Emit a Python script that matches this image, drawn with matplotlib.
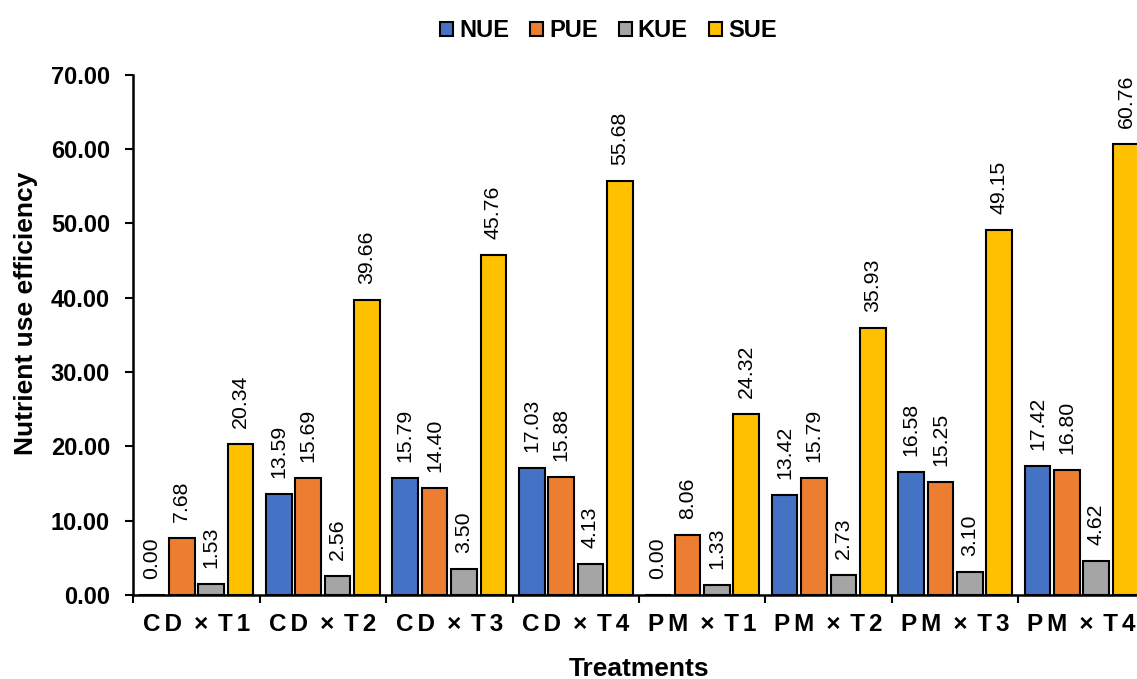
import matplotlib
matplotlib.use('Agg')
import matplotlib.pyplot as plt
import numpy as np

plt.rcParams['font.family'] = ['Liberation Sans', 'DejaVu Sans']

# data
groups = ['CD', 'CD', 'CD', 'CD', 'PM', 'PM', 'PM', 'PM']
levels = ['T1', 'T2', 'T3', 'T4', 'T1', 'T2', 'T3', 'T4']
series_names = ['NUE', 'PUE', 'KUE', 'SUE']
nue = [0.00, 13.59, 15.79, 17.03, 0.00, 13.42, 16.58, 17.42]
pue = [7.68, 15.69, 14.40, 15.88, 8.06, 15.79, 15.25, 16.80]
kue = [1.53, 2.56, 3.50, 4.13, 1.33, 2.73, 3.10, 4.62]
sue = [20.34, 39.66, 45.76, 55.68, 24.32, 35.93, 49.15, 60.76]
y_ticks = [0, 10, 20, 30, 40, 50, 60, 70]

colors = ['#4472C4', '#ED7D31', '#A5A5A5', '#FFC000']

# spaced-out labels like "C D  ×  T 1"
narrow = '\u2006'
treatments = [narrow.join(g) + '\u2002×\u2009\u2009' + narrow.join(t)
              for g, t in zip(groups, levels)]

fig = plt.figure(figsize=(11.37, 6.79), dpi=100)
ax = fig.add_axes([0.117, 0.1237, 0.890, 0.766])

x = np.arange(len(treatments))
step = 0.233
width = 0.205
all_series = [nue, pue, kue, sue]

for i, (vals, name, col) in enumerate(zip(all_series, series_names, colors)):
    off = (i - 1.5) * step
    bars = ax.bar(x + off, vals, width, color=col, edgecolor='black',
                  linewidth=1.5, label=name, clip_on=False)
    for b, v in zip(bars, vals):
        ax.annotate(f'{v:.2f}', (b.get_x() + b.get_width() / 2, v),
                    xytext=(0, 11.5), textcoords='offset points',
                    rotation=90, ha='center', va='bottom', fontsize=15.3)

ax.set_xlim(-0.5, len(treatments) - 0.5)
ax.set_ylim(0, 70)
ax.set_yticks(y_ticks)
ax.set_yticklabels([f'{t:.2f}' for t in y_ticks], fontsize=17, fontweight='bold')
ax.set_xticks(x)
ax.set_xticklabels(treatments, fontsize=17.5, fontweight='bold')
ax.set_xticks(np.arange(len(treatments) + 1) - 0.5, minor=True)
ax.tick_params(axis='x', which='major', length=0, pad=13)
ax.tick_params(axis='x', which='minor', length=6, width=1.5, direction='out')
ax.tick_params(axis='y', length=6, width=1.5, direction='out', pad=10.5)

for s in ['top', 'right']:
    ax.spines[s].set_visible(False)
for s in ['left', 'bottom']:
    ax.spines[s].set_linewidth(1.8)

ax.set_ylabel('Nutrient use efficiency', fontsize=19, fontweight='bold')
ax.yaxis.set_label_coords(-0.094, 0.542)
ax.set_xlabel('Treatments', fontsize=19, fontweight='bold', labelpad=15)

leg = fig.legend(loc='center', bbox_to_anchor=(0.535, 0.955), ncol=4, frameon=False,
                 prop={'size': 17, 'weight': 'bold'}, handlelength=0.55,
                 handleheight=0.55, handletextpad=0.25, columnspacing=0.9)

fig.savefig('out.png', dpi=100)
